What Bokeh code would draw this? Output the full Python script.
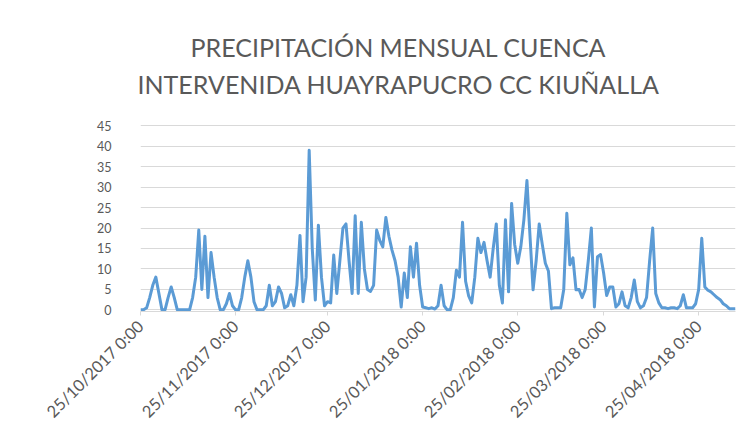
import pandas as pd
from bokeh.plotting import figure
from bokeh.models import Range1d, FixedTicker, Title
from bokeh.embed import file_html
from bokeh.resources import INLINE

title_lines = ["PRECIPITACIÓN MENSUAL CUENCA", "INTERVENIDA HUAYRAPUCRO CC KIUÑALLA"]

start_date = "2017-10-25"
precip = [
    0, 0, 0.5, 3, 6, 8, 4, 0, 0, 3,
    5.6, 3, 0, 0, 0, 0, 0, 3, 8, 19.5,
    5, 18, 3, 14, 8, 3, 0, 0, 1.5, 4,
    1, 0, 0, 3, 8, 12, 8, 2, 0, 0,
    0, 1, 6, 1, 2, 5.6, 4, 0.5, 1, 3.7,
    1, 6, 18.2, 2, 8, 39, 15, 2.4, 20.7, 8,
    1, 2, 1.7, 13.4, 4, 12, 20, 21, 12, 4,
    23, 4, 21.4, 10, 5, 4.5, 6, 19.5, 17, 15.4,
    22.6, 18, 14.6, 12, 8, 0.7, 9, 3, 15.4, 8,
    16.3, 6, 0.7, 0.5, 0.3, 0.5, 0.2, 1, 6, 1,
    0, 0, 3, 9.7, 8, 21.4, 7, 3.4, 1.7, 8,
    17.5, 14, 16.5, 12, 8, 15, 21, 6, 1.7, 22,
    4.4, 26, 16, 11.4, 15.4, 22, 31.6, 18, 4.9, 12,
    21, 16, 11.4, 9.5, 0.3, 0.5, 0.5, 0.5, 5, 23.6,
    11, 12.7, 4.9, 5, 3, 5, 12, 20, 0.7, 13,
    13.5, 9, 3.5, 5.6, 5.6, 0.7, 1.5, 4.4, 1, 0.5,
    3, 7.3, 2, 0.5, 1, 3, 12, 20, 4, 1.7,
    0.5, 0.5, 0.3, 0.5, 0.5, 0.3, 1, 3.7, 0.5, 0.5,
    0.5, 1.5, 5, 17.5, 5.6, 4.8, 4.4, 3.7, 3, 2.5,
    1.5, 1, 0.3, 0.3, 0.3,
]
tick_dates = ["2017-10-25", "2017-11-25", "2017-12-25", "2018-01-25",
              "2018-02-25", "2018-03-25", "2018-04-25"]
tick_labels = ["25/10/2017 0:00", "25/11/2017 0:00", "25/12/2017 0:00",
               "25/01/2018 0:00", "25/02/2018 0:00", "25/03/2018 0:00",
               "25/04/2018 0:00"]
y_ticks = [0, 5, 10, 15, 20, 25, 30, 35, 40, 45]

dates = pd.date_range(start_date, periods=len(precip), freq="D")


def ms(t):
    return int(pd.Timestamp(t).value // 10**6)


tick_ms = [ms(t) for t in tick_dates]

GREY = "#595959"
GRID = "#d9d9d9"
FONT = "Lato"

p = figure(width=748, height=438, x_axis_type="datetime",
           output_backend="svg", toolbar_location=None,
           x_range=Range1d(ms(dates[0]), ms(dates[-1])),
           y_range=Range1d(-0.4, 45.3),
           min_border_left=140, min_border_right=13,
           min_border_top=124, min_border_bottom=127)

p.title.text = title_lines[0]
p.title.align = "left"
p.title.offset = 50
p.title.text_font = FONT
p.title.text_font_size = "25px"
p.title.text_font_style = "normal"
p.title.text_color = GREY
p.title.standoff = 4

# spacer between the title block and the plot area (closest to the plot)
p.add_layout(Title(text=".", text_font_size="2px", standoff=20,
                   text_color="#ffffff"), "above")
p.add_layout(Title(text=title_lines[1], align="left", offset=-3, text_font=FONT,
                   text_font_size="25px", text_font_style="normal",
                   text_color=GREY, standoff=6), "above")

p.line(dates, precip, line_color="#5B9BD5", line_width=3, line_join="round")

p.outline_line_color = None
p.xgrid.grid_line_color = None
p.ygrid.grid_line_color = GRID
p.yaxis.ticker = FixedTicker(ticks=y_ticks)
p.yaxis.axis_line_color = None
p.yaxis.major_tick_line_color = None
p.yaxis.minor_tick_line_color = None
p.yaxis.major_label_standoff = 23
p.yaxis.major_label_text_font = FONT
p.yaxis.major_label_text_font_size = "12.5px"
p.yaxis.major_label_text_color = GREY

p.xaxis.ticker = FixedTicker(ticks=tick_ms)
p.xaxis.major_label_overrides = {t: l for t, l in zip(tick_ms, tick_labels)}
p.xaxis.major_label_orientation = 0.785398
p.xaxis.axis_line_color = GRID
p.xaxis.major_tick_line_color = GRID
p.xaxis.major_tick_in = 0
p.xaxis.major_tick_out = 4
p.xaxis.minor_tick_line_color = None
p.xaxis.major_label_text_font = FONT
p.xaxis.major_label_text_font_size = "16.5px"
p.xaxis.major_label_text_color = GREY
p.xaxis.major_label_standoff = 8

open("out.html", "w").write(file_html(p, INLINE))
